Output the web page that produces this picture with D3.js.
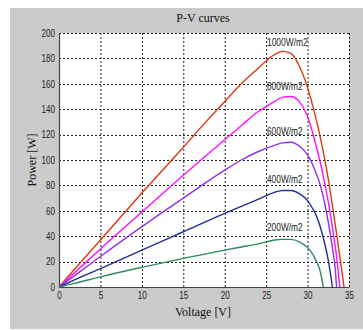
<!DOCTYPE html>
<html>
<head>
<meta charset="utf-8">
<script src="https://cdn.jsdelivr.net/npm/d3@7"></script>
<style>
  body { margin: 0; background: #fff; }
  svg { display: block; }
</style>
</head>
<body>
<div id="chart"></div>
<script>
// P-V curve readings, [voltage V, power W]
const curve1000 = [[0,0],[2,15],[5,37],[10,74],[15,110],[18,132],[20,146],[22,160],[24,172],[25,178],[26,183],[27,185.5],[28,184],[29,174],[30,157],[31,133],[31.5,119],[32,103],[32.5,85],[33,64],[33.5,42],[34,19],[34.4,0]];
const curve800 = [[0,0],[2,12],[5,30],[10,59],[15,88],[20,116],[22,127],[24,138],[25,142],[26,146],[27,149.5],[28,150],[29,146],[30,134],[30.5,124],[31,112],[31.5,99],[32,84],[32.5,67],[33,47],[33.5,24],[33.9,0]];
const curve600 = [[0,0],[2,9.5],[5,24],[10,47.5],[15,70],[20,92],[22,100],[24,106.5],[26,111.5],[27,113.5],[28,114],[29,111],[30,104],[30.5,98],[31,90],[31.5,81],[32,68],[32.5,51],[33,31],[33.3,17],[33.5,0]];
const curve400 = [[0,0],[2,6],[5,14.5],[10,29],[15,43.5],[20,58],[22,63.5],[24,69],[25,72],[26,74.5],[27,76],[28,76],[29,73.5],[30,68],[30.5,63],[31,57],[31.5,48],[32,36],[32.5,21],[33,0]];
const curve200 = [[0,0],[2,3],[5,8],[10,15.5],[15,22.5],[20,29],[22,31.5],[24,34],[25,35.5],[26,37],[27,37.5],[28,37.5],[29,35.5],[30,31],[30.5,27],[31,21],[31.5,13],[31.9,0]];

const seriesNames = ["1000W/m2", "800W/m2", "600W/m2", "400W/m2", "200W/m2"];
const seriesData = [curve1000, curve800, curve600, curve400, curve200];
const seriesColors = ["#e0380c", "#ff10ff", "#9030f0", "#203090", "#2e8a5a"];
// label anchor points (voltage, power)
const labelPos = [[25.1, 190], [25.1, 155], [25.1, 120], [25.1, 82], [25.1, 44]];

const xTicks = [0, 5, 10, 15, 20, 25, 30, 35];
const yTicks = [0, 20, 40, 60, 80, 100, 120, 140, 160, 180, 200];

const width = 363, height = 330;
const margin = { left: 59, right: 14, top: 33, bottom: 43 };

const svg = d3.select("#chart").append("svg")
    .attr("width", width)
    .attr("height", height);

// gray figure background
svg.append("rect")
    .attr("x", 10).attr("y", 8)
    .attr("width", width - 10).attr("height", 321)
    .attr("fill", "#cbcbcb");

const x = d3.scaleLinear().domain([0, 35]).range([margin.left, width - margin.right]);
const y = d3.scaleLinear().domain([0, 200]).range([height - margin.bottom, margin.top]);

// white plot area
svg.append("rect")
    .attr("x", x(0)).attr("y", y(200))
    .attr("width", x(35) - x(0)).attr("height", y(0) - y(200))
    .attr("fill", "#fff");

// dotted grid
const grid = svg.append("g")
    .attr("stroke", "#222")
    .attr("stroke-width", 1)
    .attr("stroke-dasharray", "2,2");
grid.selectAll(".gx").data(xTicks.slice(1)).join("line")
    .attr("x1", d => x(d) + 0.5).attr("x2", d => x(d) + 0.5)
    .attr("y1", y(0)).attr("y2", y(200));
grid.selectAll(".gy").data(yTicks.slice(1)).join("line")
    .attr("y1", d => Math.round(y(d)) + 0.5).attr("y2", d => Math.round(y(d)) + 0.5)
    .attr("x1", x(0)).attr("x2", x(35));

// axes
const xAxis = svg.append("g")
    .attr("transform", `translate(0,${y(0)})`)
    .call(d3.axisBottom(x).tickValues(xTicks).tickSize(0).tickPadding(5));
const yAxis = svg.append("g")
    .attr("transform", `translate(${x(0)},0)`)
    .call(d3.axisLeft(y).tickValues(yTicks).tickSize(0).tickPadding(4));

[xAxis, yAxis].forEach(a => {
    a.select(".domain").attr("stroke", "#444").attr("stroke-width", 1.2);
    a.selectAll("text")
        .attr("fill", "#222")
        .style("font-family", "Liberation Sans, Arial, sans-serif")
        .style("font-size", "10px")
        .attr("textLength", function () { return this.textContent.length * 4.5; })
        .attr("lengthAdjust", "spacingAndGlyphs");
});

// curves
const line = d3.line()
    .x(d => x(d[0]))
    .y(d => y(d[1]))
    .curve(d3.curveMonotoneX);

svg.append("g")
    .selectAll("path")
    .data(seriesData)
    .join("path")
    .attr("d", line)
    .attr("fill", "none")
    .attr("stroke", (d, i) => seriesColors[i])
    .attr("stroke-width", 1.4);

// irradiance labels
svg.append("g")
    .selectAll("text")
    .data(seriesNames)
    .join("text")
    .attr("x", (d, i) => x(labelPos[i][0]))
    .attr("y", (d, i) => y(labelPos[i][1]))
    .attr("fill", "#222")
    .style("font-family", "Liberation Sans, Arial, sans-serif")
    .style("font-size", "10px")
    .attr("textLength", d => d.length * 5.1)
    .attr("lengthAdjust", "spacingAndGlyphs")
    .text(d => d);

// titles
const serif = "Liberation Serif, Times New Roman, serif";
svg.append("text")
    .attr("x", 203).attr("y", 22)
    .attr("text-anchor", "middle")
    .style("font-family", serif).style("font-size", "12px")
    .attr("fill", "#111")
    .text("P-V curves");

svg.append("text")
    .attr("x", 203).attr("y", 316)
    .attr("text-anchor", "middle")
    .style("font-family", serif).style("font-size", "12px")
    .attr("fill", "#111")
    .text("Voltage [V]");

svg.append("text")
    .attr("transform", `translate(36,${(y(0) + y(200)) / 2}) rotate(-90)`)
    .attr("text-anchor", "middle")
    .style("font-family", serif).style("font-size", "12px")
    .attr("fill", "#111")
    .text("Power [W]");
</script>
</body>
</html>
